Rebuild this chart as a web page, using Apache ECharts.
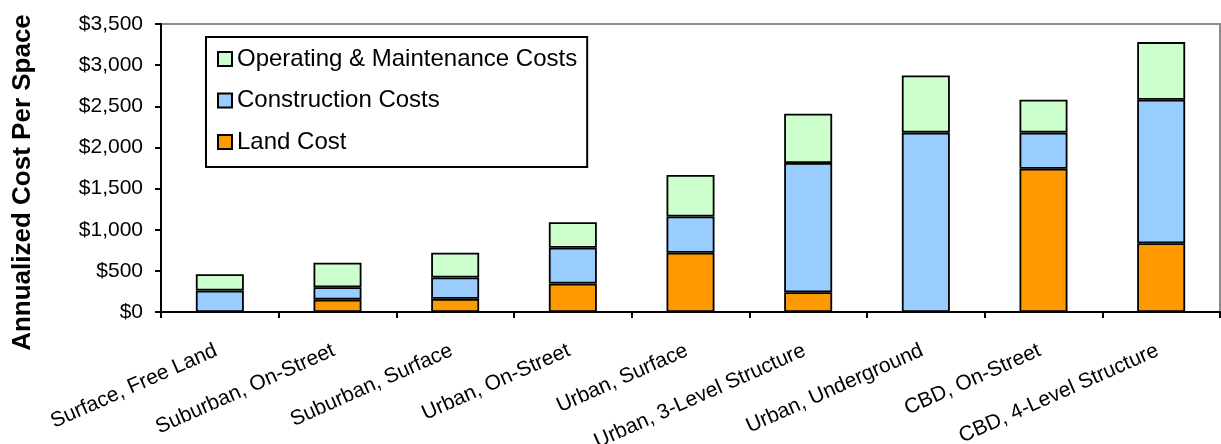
<!DOCTYPE html>
<html>
<head>
<meta charset="utf-8">
<script src="https://cdn.jsdelivr.net/npm/echarts@6/dist/echarts.min.js"></script>
<style>
html,body{margin:0;padding:0;background:#fff;}
#chart{width:1221px;height:444px;}
</style>
</head>
<body>
<div id="chart"></div>
<script>
const categories = ['Surface, Free Land','Suburban, On-Street','Suburban, Surface','Urban, On-Street','Urban, Surface','Urban, 3-Level Structure','Urban, Underground','CBD, On-Street','CBD, 4-Level Structure'];
const landCost = [0, 150, 160, 345, 720, 240, 0, 1740, 835];
const constructionCosts = [260, 150, 260, 435, 440, 1570, 2180, 440, 1745];
const omCosts = [200, 300, 300, 310, 505, 600, 695, 400, 700];
const seriesNames = ['Land Cost', 'Construction Costs', 'Operating & Maintenance Costs'];
const yTitle = 'Annualized Cost Per Space';
const yMin = 0, yMax = 3500, yStep = 500;

const FONT = "'Liberation Sans', Arial, sans-serif";
const chart = echarts.init(document.getElementById('chart'), null, {renderer: 'canvas'});

function money(v) {
  return '$' + String(v).replace(/\B(?=(\d{3})+(?!\d))/g, ',');
}

const barStyle = (color) => ({color: color, borderColor: '#000', borderWidth: 1.8});

chart.setOption({
  backgroundColor: '#fff',
  animation: false,
  textStyle: {fontFamily: FONT},
  grid: {left: 161, right: 1, top: 24, bottom: 132, show: true, borderColor: '#8c8c8c', borderWidth: 2, outerBoundsMode: 'none'},
  legend: {
    orient: 'vertical',
    left: 206, top: 37,
    data: [seriesNames[2], seriesNames[1], seriesNames[0]],
    icon: 'rect',
    itemWidth: 14, itemHeight: 14, itemGap: 17.5,
    padding: [10, 10, 13, 11],
    borderColor: '#000', borderWidth: 2,
    backgroundColor: '#fff',
    selectedMode: false,
    textStyle: {fontFamily: FONT, fontSize: 24, lineHeight: 24, color: '#000'}
  },
  xAxis: {
    type: 'category',
    data: categories,
    boundaryGap: true,
    axisLine: {lineStyle: {color: '#000', width: 2}},
    axisTick: {show: true, length: 6, inside: false, lineStyle: {color: '#000', width: 2}},
    axisLabel: {rotate: 24, margin: 36, interval: 0, fontFamily: FONT, fontSize: 21, color: '#000', padding: [0, 4, 0, 0]},
    splitLine: {show: false}
  },
  yAxis: {
    type: 'value',
    min: yMin, max: yMax, interval: yStep,
    axisLine: {show: true, lineStyle: {color: '#000', width: 2}},
    axisTick: {show: true, length: 6, inside: false, lineStyle: {color: '#000', width: 2}},
    axisLabel: {formatter: money, margin: 18, fontFamily: FONT, fontSize: 21, color: '#000'},
    splitLine: {show: false}
  },
  graphic: [{
    type: 'text',
    x: 22.5, y: 182.5,
    rotation: Math.PI / 2,
    style: {text: yTitle, fontFamily: FONT, fontWeight: 'bold', fontSize: 26, fill: '#000', align: 'center', verticalAlign: 'middle'}
  }],
  series: [
    {name: seriesNames[0], type: 'bar', stack: 'cost', data: landCost, barWidth: 48, itemStyle: barStyle('#FF9900')},
    {name: seriesNames[1], type: 'bar', stack: 'cost', data: constructionCosts, barWidth: 48, itemStyle: barStyle('#99CCFF')},
    {name: seriesNames[2], type: 'bar', stack: 'cost', data: omCosts, barWidth: 48, itemStyle: barStyle('#CCFFCC')}
  ]
});
</script>
</body>
</html>
